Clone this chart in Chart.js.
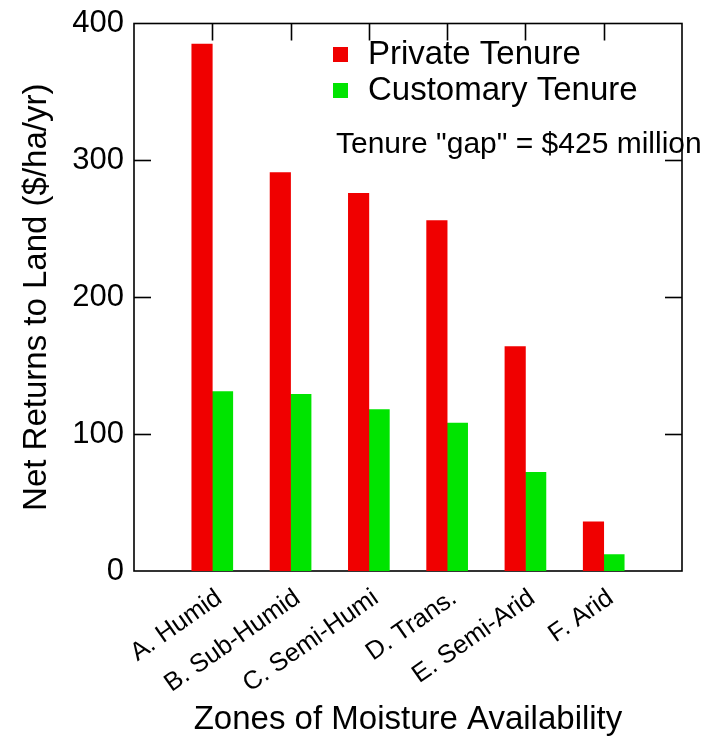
<!DOCTYPE html>
<html><head><meta charset="utf-8">
<script src="https://cdn.jsdelivr.net/npm/chart.js@4"></script>
<style>html,body{margin:0;padding:0;background:#fff}</style>
</head><body>
<canvas id="c" width="710" height="736" style="display:block;width:710px;height:736px"></canvas>
<script>
const categories = ['A. Humid', 'B. Sub-Humid', 'C. Semi-Humi', 'D. Trans.', 'E. Semi-Arid', 'F. Arid'];
const privateTenure = [385, 291, 276, 256, 164, 36];
const customaryTenure = [131, 129, 118, 108, 72, 12];
const yTicks = [0, 100, 200, 300, 400];
const seriesNames = ['Private Tenure', 'Customary Tenure'];
const seriesColors = ['#f00000', '#00e400'];
const noteText = 'Tenure "gap" = $425 million';
const xTitle = 'Zones of Moisture Availability';
const yTitle = 'Net Returns to Land ($/ha/yr)';

const FAMILY = '"Liberation Sans", Arial, Helvetica, sans-serif';
// pad one empty slot on each side so categories sit at whole slots from the frame
const labels = [''].concat(categories, ['']);
const pad = arr => [null].concat(arr, [null]);

const decor = {
  id: 'decor',
  beforeDatasetsDraw(chart) {
    const {ctx, chartArea: a} = chart;
    ctx.save();
    ctx.strokeStyle = '#000';
    ctx.lineWidth = 1.6;
    ctx.strokeRect(a.left, a.top, a.right - a.left, a.bottom - a.top);
    ctx.restore();
  },
  afterDatasetsDraw(chart) {
    const {ctx, chartArea: a, scales: {x, y}} = chart;
    ctx.save();
    ctx.strokeStyle = '#000';
    ctx.lineWidth = 1.6;
    const line = (x1, y1, x2, y2) => { ctx.beginPath(); ctx.moveTo(x1, y1); ctx.lineTo(x2, y2); ctx.stroke(); };
    const tl = 17;
    yTicks.forEach(v => {
      if (v === y.min || v === y.max) return;
      const py = Math.round(y.getPixelForValue(v)) + 0.5;
      line(a.left, py, a.left + tl, py);
      line(a.right - tl, py, a.right, py);
    });
    categories.forEach((c, i) => {
      const px = Math.round(x.getPixelForValue(i + 1)) + 0.5;
      line(px, a.top, px, a.top + tl);
    });
    // legend
    ctx.textBaseline = 'alphabetic';
    ctx.textAlign = 'left';
    ctx.fillStyle = '#000';
    ctx.font = '33px ' + FAMILY;
    chart.data.datasets.forEach((ds, i) => {
      const yy = 47 + i * 36;
      ctx.fillStyle = ds.backgroundColor;
      ctx.fillRect(333, yy, 15, 15);
      ctx.fillStyle = '#000';
      ctx.fillText(ds.label, 368, yy + 17);
    });
    ctx.font = '30px ' + FAMILY;
    ctx.fillText(noteText, 336, 153);
    ctx.restore();
  }
};

new Chart(document.getElementById('c'), {
  type: 'bar',
  data: {
    labels: labels,
    datasets: [
      {label: seriesNames[0], data: pad(privateTenure), backgroundColor: seriesColors[0], barThickness: 20.5},
      {label: seriesNames[1], data: pad(customaryTenure), backgroundColor: seriesColors[1], barThickness: 20.5}
    ]
  },
  options: {
    responsive: false,
    animation: false,
    devicePixelRatio: 1,
    layout: {padding: {top: 23.5, right: 28, left: 0, bottom: 0}},
    plugins: {legend: {display: false}, tooltip: {enabled: false}},
    scales: {
      x: {
        type: 'category',
        offset: false,
        grid: {display: false, drawTicks: false},
        border: {display: false},
        ticks: {
          color: '#000', font: {family: FAMILY, size: 25.5},
          minRotation: 35, maxRotation: 35, autoSkip: false, padding: 12, labelOffset: 7
        },
        title: {display: true, text: xTitle, color: '#000', font: {family: FAMILY, size: 33, lineHeight: 1}, padding: {top: 0, bottom: 0}},
        afterFit: s => { s.height = 165; s.paddingLeft = 0; s.paddingRight = 0; }
      },
      y: {
        min: 0, max: 400,
        grid: {display: false, drawTicks: false},
        border: {display: false},
        ticks: {stepSize: 100, color: '#000', font: {family: FAMILY, size: 31}, padding: 10},
        title: {display: true, text: yTitle, color: '#000', font: {family: FAMILY, size: 33}, padding: {top: 17, bottom: 0}},
        afterFit: s => { s.width = 134; s.paddingTop = 0; s.paddingBottom = 0; }
      }
    }
  },
  plugins: [decor]
});
</script>
</body></html>
